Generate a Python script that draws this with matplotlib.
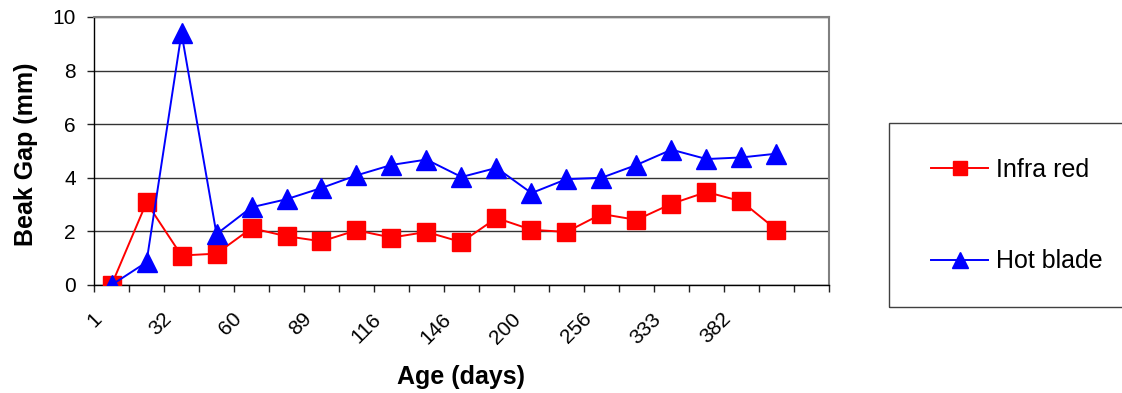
import matplotlib
matplotlib.use("Agg")
import matplotlib.pyplot as plt
import matplotlib.transforms as mtransforms
from matplotlib.patches import Rectangle

plt.rcParams['font.family'] = ['Liberation Sans', 'DejaVu Sans']

# data (21 category slots, last one empty)
age_labels = ["1", "", "32", "", "60", "", "89", "", "116", "", "146", "",
              "200", "", "256", "", "333", "", "382", "", ""]
infra_red = [0.0, 3.08, 1.1, 1.17, 2.12, 1.82, 1.63, 2.04, 1.77, 1.98,
             1.6, 2.5, 2.06, 1.98, 2.65, 2.43, 3.03, 3.47, 3.12, 2.06]
hot_blade = [0.0, 0.85, 9.4, 1.9, 2.9, 3.2, 3.62, 4.09, 4.48, 4.68,
             4.03, 4.37, 3.43, 3.95, 4.0, 4.48, 5.05, 4.7, 4.76, 4.9]

n_cat = len(age_labels)
x = list(range(len(infra_red)))

fig = plt.figure(figsize=(11.22, 3.93), dpi=100)
ax = fig.add_axes([94 / 1122, 1 - 285 / 393, 735 / 1122, 268 / 393])

ax.plot(x, infra_red, color='#FF0000', lw=1.4, marker='s', ms=12.5,
        mfc='#FF0000', mec='#FF0000', mew=1, label='Infra red', zorder=3)
ax.plot(x, hot_blade, color='#0000FF', lw=1.4, marker='^', ms=14.5,
        mfc='#0000FF', mec='#0000FF', mew=1, label='Hot blade', zorder=4)

ax.set_xlim(-0.5, n_cat - 0.5)
ax.set_ylim(0, 10)
ax.set_yticks([0, 2, 4, 6, 8, 10])
ax.yaxis.grid(True, color='#333333', lw=1)
ax.set_axisbelow(True)

# tick marks between categories, labels at category centres
ax.set_xticks([k - 0.5 for k in range(n_cat + 1)], minor=True)
ax.set_xticks(range(n_cat))
ax.set_xticklabels(age_labels, rotation=45, ha='right', va='top',
                   rotation_mode='anchor', fontsize=15)
ax.tick_params(axis='x', which='major', length=0, pad=17.5)
ax.tick_params(axis='x', which='minor', length=5, width=1, color='#222222',
               direction='out')
ax.tick_params(axis='y', length=5, width=1, color='#222222', pad=8,
               labelsize=15)
offset = mtransforms.ScaledTranslation(-20 / 100, 0, fig.dpi_scale_trans)
for lab in ax.get_xticklabels():
    lab.set_transform(lab.get_transform() + offset)

for side in ['left', 'bottom']:
    ax.spines[side].set_color('black')
    ax.spines[side].set_linewidth(1)
for side in ['top', 'right']:
    ax.spines[side].set_color('#808080')
    ax.spines[side].set_linewidth(1.5)

ax.set_ylabel('Beak Gap (mm)', fontsize=18, fontweight='bold', va='center')
ax.yaxis.set_label_coords((26 - 94) / 735, (285 - 154) / 268)
ax.set_xlabel('Age (days)', fontsize=18, fontweight='bold', va='center')
ax.xaxis.set_label_coords(0.5, (285 - 377) / 268)

# legend box runs off the right edge as in the reference
fig.patches.append(Rectangle((889 / 1122, 1 - 307 / 393), 0.3, 184 / 393,
                             transform=fig.transFigure, fill=False,
                             edgecolor='#404040', lw=1))
fig.legend(loc='upper left', bbox_to_anchor=(931 / 1122, 1 - 158 / 393),
           frameon=False, fontsize=18, handlelength=2.3, handletextpad=0.3,
           labelspacing=2.7, borderpad=0, borderaxespad=0, markerscale=0.8)

fig.savefig('out.png', dpi=100)
